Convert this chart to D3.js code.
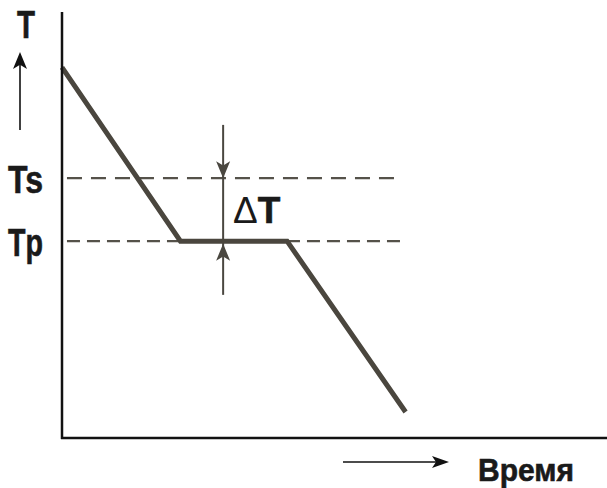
<!DOCTYPE html>
<meta charset="utf-8">
<head>
	<style>
		body { margin:0; background:#fff }
		text { font-family: "Liberation Sans", Arial, sans-serif; font-weight: bold; fill: #1a1a1a; stroke: #1a1a1a; stroke-width: 0.6 }
	</style>
	<script src="https://d3js.org/d3.v7.min.js"></script>
</head>
<body>
<script>

	// cooling curve: time vs temperature (arbitrary units)
	var time = [0, 10, 19, 29],
		temp = [87, 46.2, 46.2, 6.1];

	// levels
	var levelNames = ["Ts", "Tp"],
		levelValues = [61, 46.2],
		levelEnds = [28.4, 28.7],
		levelDash = ["15,9", "13,7"];

	// delta marker
	var deltaTime = 13.6,
		deltaTop = 73.5,
		deltaBottom = 33.6;

	var width = 607, height = 488;

	var x = d3.scaleLinear().domain([0, 46]).range([62, 607]),
		y = d3.scaleLinear().domain([0, 100]).range([438, 12]);

	var svg = d3.select("body").append("svg")
		.attr("width", width)
		.attr("height", height);

	// dashed levels
	svg.append("g").selectAll("line")
		.data(levelValues)
	  .enter().append("line")
		.attr("x1", x(0.42))
		.attr("x2", function(d, i) {return x(levelEnds[i])})
		.attr("y1", function(d) {return y(d)})
		.attr("y2", function(d) {return y(d)})
		.style("stroke", "#55524a")
		.style("stroke-width", 2.2)
		.style("stroke-dasharray", function(d, i) {return levelDash[i]});

	// delta T marker
	var mx = x(deltaTime);
	svg.append("line")
		.attr("x1", mx).attr("x2", mx)
		.attr("y1", y(deltaTop)).attr("y2", y(deltaBottom))
		.style("stroke", "#4a4740")
		.style("stroke-width", 2);

	function head(tx, ty, dir, len, half) {
		// dir: 1 = points down, -1 = points up
		var by = ty - dir * len, ny = ty - dir * len * 0.75;
		return "M" + tx + "," + ty + "L" + (tx - half) + "," + by + "L" + tx + "," + ny + "L" + (tx + half) + "," + by + "Z";
	}

	svg.append("path")
		.attr("d", head(mx, y(levelValues[0]), 1, 17, 7))
		.style("fill", "#4a4740");
	svg.append("path")
		.attr("d", head(mx, y(levelValues[1]) + 2.5, -1, 17, 7))
		.style("fill", "#4a4740");

	// curve
	var line = d3.line()
		.x(function(d) {return x(d[0])})
		.y(function(d) {return y(d[1])});

	svg.append("path")
		.datum(d3.zip(time, temp))
		.attr("d", line)
		.style("fill", "none")
		.style("stroke", "#4a463e")
		.style("stroke-width", 5)
		.style("stroke-linejoin", "miter");

	// axes
	svg.append("line")
		.attr("x1", x(0)).attr("x2", x(0))
		.attr("y1", y(100)).attr("y2", y(0) + 1)
		.style("stroke", "#111").style("stroke-width", 2.5);
	svg.append("line")
		.attr("x1", x(0) - 1).attr("x2", x(46))
		.attr("y1", y(0)).attr("y2", y(0))
		.style("stroke", "#111").style("stroke-width", 2.5);

	// axis arrows
	svg.append("line")
		.attr("x1", 20).attr("x2", 20)
		.attr("y1", 130).attr("y2", 62)
		.style("stroke", "#111").style("stroke-width", 1.6);
	svg.append("path")
		.attr("d", head(20, 52, -1, 17, 7))
		.style("fill", "#111");

	svg.append("line")
		.attr("x1", 343).attr("x2", 438)
		.attr("y1", 462).attr("y2", 462)
		.style("stroke", "#111").style("stroke-width", 1.6);
	svg.append("path")
		.attr("d", "M449,462L432,456L436,462L432,468Z")
		.style("fill", "#111");

	// labels
	svg.append("text")
		.attr("x", 17).attr("y", 38)
		.attr("textLength", 18).attr("lengthAdjust", "spacingAndGlyphs")
		.style("font-size", "39px")
		.text("T");

	svg.append("g").selectAll("text")
		.data(levelValues)
	  .enter().append("text")
		.attr("x", 8)
		.attr("y", function(d) {return y(d) + 15})
		.attr("textLength", 35).attr("lengthAdjust", "spacingAndGlyphs")
		.style("font-size", "38px")
		.text(function(d, i) {return levelNames[i]});

	var dt = svg.append("text")
		.attr("x", 233).attr("y", 223)
		.style("font-size", "37px");
	dt.append("tspan").style("font-weight", "normal").style("stroke-width", 0).text("\u0394");
	dt.append("tspan").text("T");

	svg.append("text")
		.attr("x", 478).attr("y", 481)
		.attr("textLength", 96).attr("lengthAdjust", "spacingAndGlyphs")
		.style("font-size", "32px")
		.text("Время");

</script>
</body>
